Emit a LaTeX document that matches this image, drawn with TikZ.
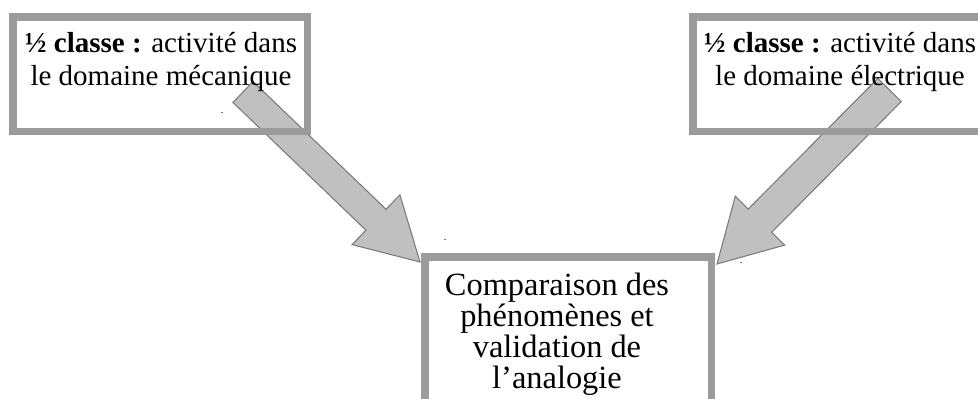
\documentclass[tikz,border=0pt]{standalone}
\usepackage{fontspec}
\setmainfont{Liberation Serif}
\usetikzlibrary{calc}
\definecolor{framegray}{RGB}{155,155,155}
\definecolor{arrowfill}{RGB}{192,192,192}
\definecolor{arrowline}{RGB}{125,125,125}
\definecolor{dotgray}{RGB}{120,120,120}
\newcommand\myblockarrow[5]{%
  \coordinate (#2-neck) at ($(#2)!#5!(#1)$);
  \draw[blockarrow]
    ($(#1)!#3!90:(#2)$) -- ($(#2-neck)!#3!90:(#2)$) -- ($(#2-neck)!#4!90:(#2)$)
    -- (#2)
    -- ($(#2-neck)!#4!-90:(#2)$) -- ($(#2-neck)!#3!-90:(#2)$) -- ($(#1)!#3!-90:(#2)$)
    -- cycle;}
\begin{document}
\begin{tikzpicture}[x=1pt,y=-1pt,
  frame/.style={draw=framegray, line width=7.5pt, line join=miter, inner sep=0pt, outer sep=0pt, anchor=north west},
  blockarrow/.style={fill=arrowfill, draw=arrowline, line width=1.1pt, line join=miter},
  toplbl/.style={font=\fontsize{29}{32.5}\selectfont, align=center, inner sep=0pt, anchor=base},
  botlbl/.style={font=\fontsize{32.4}{31}\selectfont, align=center, inner sep=0pt, anchor=base},
]
\useasboundingbox (0,0) rectangle (978,399);
\clip (0,0) rectangle (978,399);
% arrows (behind frames)
\coordinate (tailL) at (243,92);
\coordinate (tipL) at (420,262);
\coordinate (tailR) at (889.5,90);
\coordinate (tipR) at (717,264);
\myblockarrow{tailL}{tipL}{14.5pt}{34.5pt}{61pt}
\myblockarrow{tailR}{tipR}{16.5pt}{34.7pt}{61pt}
% frames
\node[frame, minimum width=294.5pt, minimum height=114.5pt] (left) at (12.75,16.75) {};
\node[frame, minimum width=293pt, minimum height=114.5pt] (right) at (692.75,16.75) {};
\node[frame, minimum width=286.5pt, minimum height=173pt] (bottom) at (424.75,256.75) {};
% texts (anchor base = baseline of last line)
\node[toplbl] (lefttxt) at (161,85.2) {\textbf{½ classe :} activité dans\\le domaine mécanique};
\node[toplbl] (righttxt) at (840,85.2) {\textbf{½ classe :} activité dans\\le domaine électrique};
\node[botlbl] (bottxt) at (557,388) {Comparaison des\\phénomènes et\\validation de\\l’analogie};
% small marks
\fill[dotgray] (221,111.5) rectangle (223,112.7);
\fill[dotgray] (444,238.5) rectangle (446,239.7);
\fill[dotgray] (740,261.5) rectangle (742,262.7);
\end{tikzpicture}
\end{document}
